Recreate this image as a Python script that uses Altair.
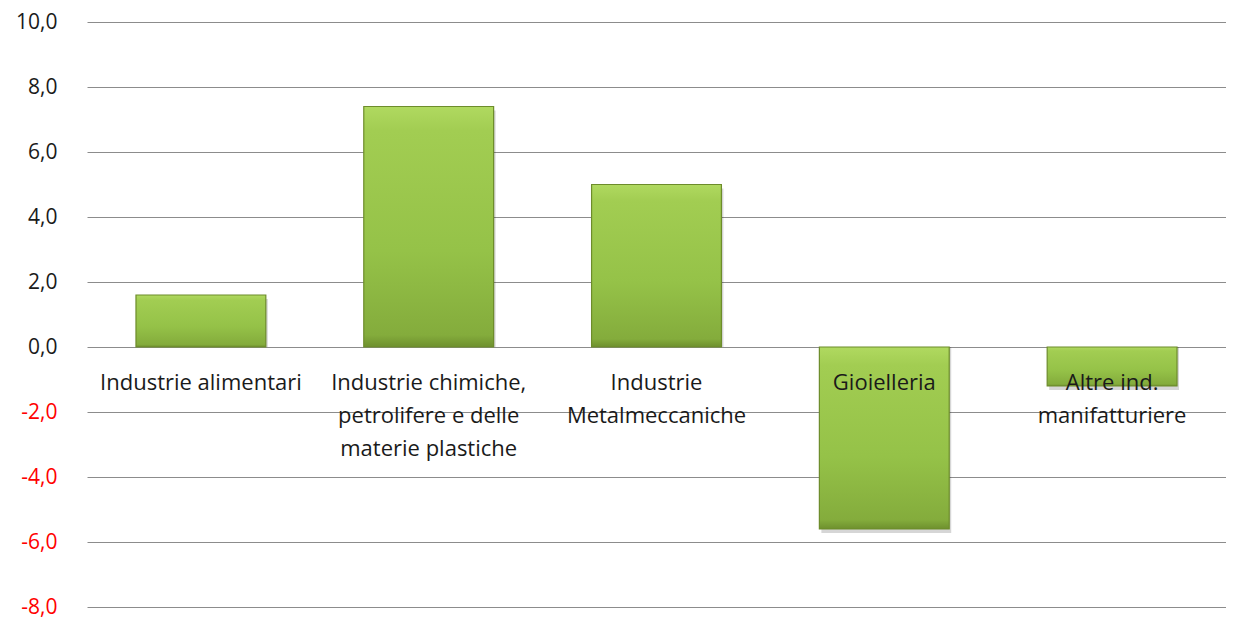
import altair as alt
import pandas as pd

categories = ["Industrie alimentari",
              "Industrie chimiche,\npetrolifere e delle\nmaterie plastiche",
              "Industrie\nMetalmeccaniche",
              "Gioielleria",
              "Altre ind.\nmanifatturiere"]
values = [1.6, 7.4, 5.0, -5.6, -1.2]
y_ticks = [-8, -6, -4, -2, 0, 2, 4, 6, 8, 10]

df = pd.DataFrame({"cat": categories, "val": values, "zero": [0] * len(values)})

FONT = "Open Sans"
x = alt.X("cat:N", sort=categories, axis=None,
          scale=alt.Scale(paddingInner=0.43, paddingOuter=0.215))
y_scale = alt.Scale(domain=[-8, 10], nice=False)

shadow = alt.Chart(df).mark_bar(color="#000000", opacity=0.16, yOffset=4, xOffset=2).encode(
    x=x, y=alt.Y("val:Q", scale=y_scale), y2=alt.Y2("zero:Q"))

bars = alt.Chart(df).mark_bar(
    stroke="#6d8c2b", strokeWidth=1.2,
    color=alt.Gradient(gradient="linear", x1=0, y1=0, x2=0, y2=1,
                       stops=[alt.GradientStop(color="#b0d960", offset=0),
                              alt.GradientStop(color="#a2cd52", offset=0.1),
                              alt.GradientStop(color="#95c248", offset=0.6),
                              alt.GradientStop(color="#84ac3c", offset=0.95),
                              alt.GradientStop(color="#6e902e", offset=1)])
).encode(
    x=x,
    y=alt.Y("val:Q", scale=y_scale,
            axis=alt.Axis(values=y_ticks, title=None, domain=False, ticks=False,
                          grid=True, gridColor="#8c8c8c", gridWidth=1,
                          labelFont=FONT, labelFontSize=21, labelPadding=30,
                          labelColor={"condition": {"test": "datum.value < 0", "value": "#ff0000"},
                                      "value": "#1a1a1a"},
                          labelExpr="(datum.value < 0 ? '-' : '') + replace(format(abs(datum.value), '.1f'), '.', ',')")),
    y2=alt.Y2("zero:Q"),
)

labels = alt.Chart(df).mark_text(
    font=FONT, fontSize=22, color="#1a1a1a", baseline="alphabetic", dy=43,
    lineBreak="\n", lineHeight=33
).encode(x=x, y=alt.Y("zero:Q", scale=y_scale), text="cat:N")

chart = alt.layer(shadow, bars, labels).properties(
    width=1139, height=585,
    autosize=alt.AutoSizeParams(type="none"),
    padding={"left": 79, "top": 14, "right": 0, "bottom": 12},
    background="#ffffff",
).configure_view(stroke=None)

chart.save("out.html", embed_options={"renderer": "svg", "actions": False})
